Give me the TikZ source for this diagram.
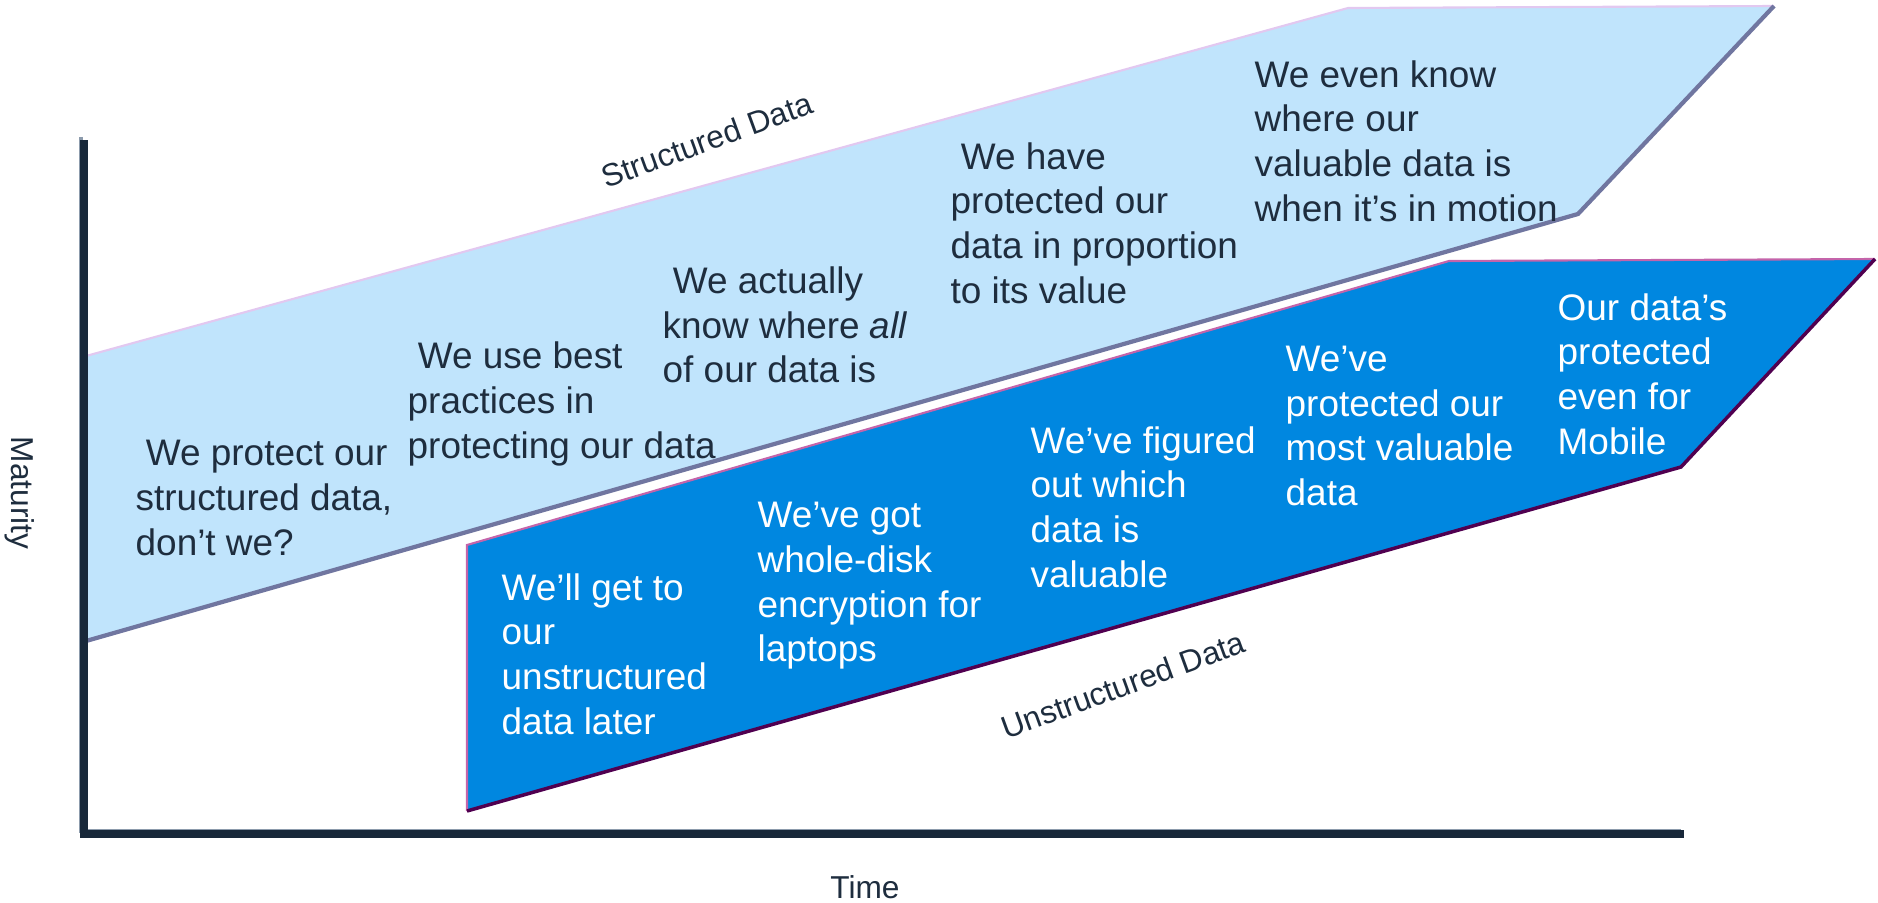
\documentclass[tikz,border=0pt]{standalone}
\usepackage{fontspec}
\setmainfont{Liberation Sans}
\definecolor{bandLight}{RGB}{192,228,252}
\definecolor{bandDark}{RGB}{0,135,224}
\definecolor{rimLavender}{RGB}{226,200,240}
\definecolor{shadeSlate}{RGB}{112,118,160}
\definecolor{rimPink}{RGB}{196,100,170}
\definecolor{shadePlum}{RGB}{80,0,80}
\definecolor{inkNavy}{RGB}{30,45,62}
\definecolor{axisInk}{RGB}{24,40,58}
\definecolor{axisHigh}{RGB}{140,155,172}
\tikzset{
  stage/.style={anchor=west, align=left, inner sep=0pt, font=\fontsize{10.5}{12.7}\selectfont},
  stageup/.style={stage, text=inkNavy},
  stagedown/.style={stage, text=white},
  axislabel/.style={text=inkNavy, inner sep=0pt, font=\fontsize{9}{11}\selectfont},
  bandlabel/.style={axislabel, rotate=20},
  axisline/.style={draw=axisInk, line width=2pt},
  axisglint/.style={draw=axisHigh, line width=1pt, transform canvas={xshift=-0.9pt, yshift=0.9pt}}
}

\begin{document}
\begin{tikzpicture}[x=0.01cm, y=-0.01cm]
  \useasboundingbox (0,0) rectangle (1878,903);

  % structured data band
  \coordinate (sbl) at (86,641);
  \coordinate (stl) at (86,356);
  \coordinate (stk) at (1348,8);
  \coordinate (str) at (1774,6);
  \coordinate (srk) at (1578,214);
  \fill[bandLight] (sbl) -- (stl) -- (stk) -- (str) -- (srk) -- cycle;
  \draw[rimLavender, line width=0.6pt] (stl) -- (stk) -- (str);
  \draw[shadeSlate, line width=1.2pt] (str) -- (srk) -- (sbl);

  % unstructured data band
  \coordinate (utl) at (467,545);
  \coordinate (ubl) at (467,811);
  \coordinate (ubk) at (1681,467);
  \coordinate (utr) at (1875,259);
  \coordinate (utk) at (1449,261);
  \fill[bandDark] (utl) -- (ubl) -- (ubk) -- (utr) -- (utk) -- cycle;
  \draw[rimPink, line width=0.6pt] (ubl) -- (utl) -- (utk) -- (utr);
  \draw[shadePlum, line width=1pt] (ubl) -- (ubk) -- (utr);

  % axes
  \coordinate (ytop) at (84,140);
  \coordinate (xend) at (1684,834);
  \draw[axisglint] (ytop) |- (xend);
  \draw[axisline] (ytop) |- (xend);

  \node[axislabel, rotate=-90] (maturity) at (20,493) {Maturity};
  \node[axislabel] (time) at (865,887) {Time};
  \node[bandlabel] (structured) at (707,140) {Structured Data};
  \node[bandlabel] (unstructured) at (1123,685) {Unstructured Data};

  % steps on the structured band
  \node[stageup] (s1) at (135,498) {\ We protect our\\structured data,\\don’t we?};
  \node[stageup] (s2) at (407,404) {\ We use best\\practices in\\protecting our data};
  \node[stageup] (s3) at (662,325) {\ We actually\\know where \textit{all}\\of our data is};
  \node[stageup] (s4) at (950,223) {\ We have\\protected our\\data in proportion\\to its value};
  \node[stageup] (s5) at (1254,141) {We even know\\where our\\valuable data is\\when it’s in motion};

  % steps on the unstructured band
  \node[stagedown] (u1) at (501,654) {We’ll get to\\our\\unstructured\\data later};
  \node[stagedown] (u2) at (757,586) {We’ve got\\whole-disk\\encryption for\\laptops};
  \node[stagedown] (u3) at (1030,507) {We’ve figured\\out which\\data is\\valuable};
  \node[stagedown] (u4) at (1285,426) {We’ve\\protected our\\most valuable\\data};
  \node[stagedown] (u5) at (1557,374) {Our data’s\\protected\\even for\\Mobile};
\end{tikzpicture}
\end{document}
